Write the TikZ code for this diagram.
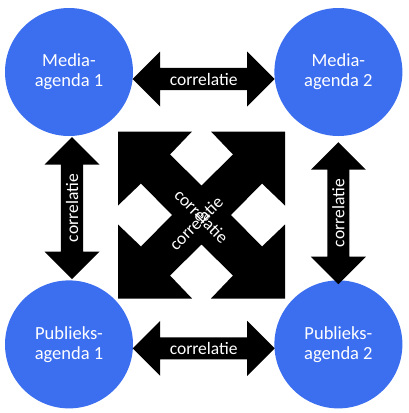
\documentclass[tikz,border=0pt]{standalone}
\usepackage{fontspec}
\setmainfont{Carlito}
\usetikzlibrary{shapes.arrows,positioning,calc}
\definecolor{agendablue}{RGB}{60,110,240}

\begin{document}
\begin{tikzpicture}[x=1pt, y=-1pt,
  agenda/.style={circle, fill=agendablue, text=white, minimum size=128pt,
                 inner sep=0pt, align=center, font=\fontsize{18.5}{20}\selectfont},
  link/.style={double arrow, fill=black, text=white, minimum height=142pt,
               minimum width=55pt, double arrow head extend=12.5pt,
               inner sep=2pt, font=\fontsize{17.5}{20}\selectfont},
  hublabel/.style={text=white, inner sep=0pt, font=\fontsize{17.5}{20}\selectfont}]
  \useasboundingbox (0,0) rectangle (409,413);
  \node[agenda] (media1) at (69,72) {Media-\\agenda 1};
  \node[agenda, right=141pt of media1] (media2) {Media-\\agenda 2};
  \node[agenda, below=144pt of media1] (public1) {Publieks-\\agenda 1};
  \node[agenda, right=141pt of public1] (public2) {Publieks-\\agenda 2};
  % correlations between the agendas
  \node[link] (linktop) at ($(media1)!0.5!(media2)+(0,7)$) {correlatie};
  \node[link] (linkbottom) at ($(public1)!0.5!(public2)+(0,4)$) {correlatie};
  \node[link, rotate=90] (linkleft) at ($(media1)!0.5!(public1)+(3,0)$) {correlatie};
  \node[link, rotate=90] (linkright) at ($(media2)!0.5!(public2)+(0,5)$) {correlatie};
  % cross correlations
  \coordinate (hub) at (201.5,215);
  \fill[black, shift={(hub)}] (-83.5,-83.5) -- (-9.5,-83.5) -- (-31.5,-60.5) -- (0,-29.5)
    -- (31.5,-60.5) -- (9.5,-83.5) -- (83.5,-83.5) -- (83.5,-9.5) -- (60.5,-31.5)
    -- (29.5,0) -- (60.5,31.5) -- (83.5,9.5) -- (83.5,83.5) -- (9.5,83.5)
    -- (31.5,60.5) -- (0,29.5) -- (-31.5,60.5) -- (-9.5,83.5) -- (-83.5,83.5)
    -- (-83.5,9.5) -- (-60.5,31.5) -- (-29.5,0) -- (-60.5,-31.5) -- (-83.5,-9.5) -- cycle;
  \node[hublabel, rotate=-45] (diagdown) at ($(hub)+(0,1)$) {correlatie};
  \node[hublabel, rotate=45] (diagup) at ($(hub)+(-5.5,8)$) {correlatie};
\end{tikzpicture}
\end{document}
